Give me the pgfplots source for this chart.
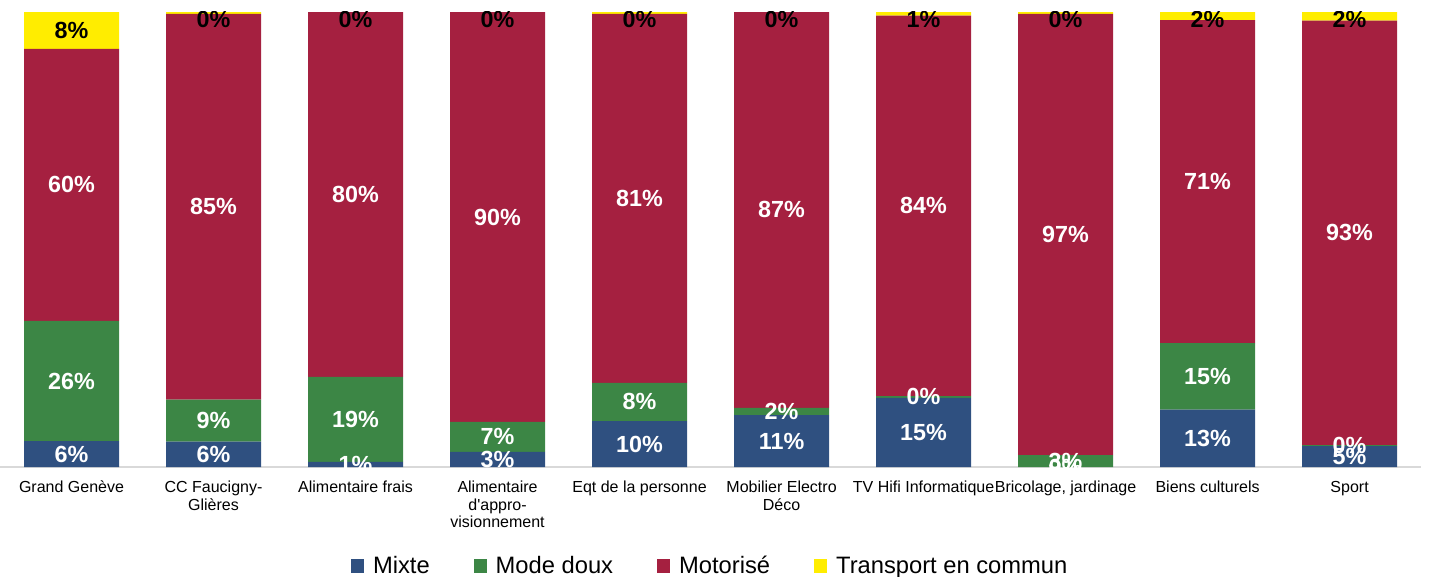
\documentclass[border=0pt]{standalone}
\usepackage{fontspec}
\setmainfont{Liberation Sans}
\usepackage{pgfplots}
\pgfplotsset{compat=1.18}
\usepackage{pgfplotstable}

\definecolor{cMixte}{RGB}{47,80,128}
\definecolor{cDoux}{RGB}{60,134,69}
\definecolor{cMoto}{RGB}{165,32,64}
\definecolor{cTC}{RGB}{255,237,0}

\pgfplotstableread{
x mixte doux moto tc
0 5.7 26.4 59.8 8.1
1 5.6 9.2 84.8 0.4
2 1.1 18.7 80.2 0
3 3.3 6.6 90.1 0
4 10.1 8.4 81.1 0.4
5 11.4 1.6 87.0 0
6 15.2 0.4 83.6 0.8
7 0 2.6 97.0 0.4
8 12.6 14.6 71.0 1.8
9 4.6 0.2 93.3 1.9
}\data

\pgfplotsset{
  /pgf/number format/assume math mode=true,
  base/.style={
    scale only axis, width=1065pt, height=341.25pt,
    xmin=-0.5, xmax=9.5, ymin=0, ymax=100,
    at={(0.375pt,81.75pt)}, anchor=south west,
  },
  lab/.style={
    only marks, mark=*, mark size=0pt, mark options={draw=none, fill=none},
    nodes near coords={\pgfmathprintnumber[fixed,precision=0]{\pgfplotspointmeta}\%},
    point meta=explicit,
    every node near coord/.style={anchor=center, text=#1, inner sep=0pt,
      font=\fontsize{17.5}{17.5}\selectfont\bfseries},
  },
  sq/.style={legend image code/.code={\fill[##1] (0pt,-5pt) rectangle (10pt,5pt); \path (14.5pt,0pt);}},
}

\begin{document}
\begin{tikzpicture}
\useasboundingbox (0,0) rectangle (1071.75pt,432pt);
\begin{axis}[base, ybar stacked, bar width=0.669,
  axis y line=none, axis x line*=bottom,
  axis line style={draw=black!15, line width=1pt},
  ytick=\empty,
  xtick={0,...,9}, major tick length=0pt,
  xticklabels={Grand Genève, {CC Faucigny-\\Glières}, Alimentaire frais, {Alimentaire\\d\textquotesingle appro-\\visionnement}, Eqt de la personne, {Mobilier Electro\\Déco}, TV Hifi Informatique, {Bricolage, jardinage}, Biens culturels, Sport},
  typeset ticklabels with strut,
  xticklabel style={align=center, font=\fontsize{12}{13.1}\selectfont, anchor=north, yshift=-6.7pt},
  legend style={at={(0.5,-0.2176)}, anchor=center, draw=none, legend columns=4,
    font=\fontsize{17.8}{19}\selectfont,
    /tikz/every even column/.append style={column sep=31pt}},
  legend cell align=left,
]
\addplot[fill=cMixte, draw=none, sq] table[x=x,y=mixte]{\data};
\addplot[fill=cDoux, draw=none, sq] table[x=x,y=doux]{\data};
\addplot[fill=cMoto, draw=none, sq] table[x=x,y=moto]{\data};
\addplot[fill=cTC, draw=none, sq] table[x=x,y=tc]{\data};
\legend{Mixte, Mode doux, Motorisé, Transport en commun}
\end{axis}
\begin{axis}[base, hide axis, clip marker paths=true]
\addplot[lab=white] table[x=x, y expr=\thisrow{mixte}/2, meta=mixte]{\data};
\addplot[lab=white] table[x=x, y expr=\thisrow{mixte}+\thisrow{doux}/2, meta=doux]{\data};
\addplot[lab=white] table[x=x, y expr=\thisrow{mixte}+\thisrow{doux}+\thisrow{moto}/2, meta=moto]{\data};
\addplot[lab=black] table[x=x, y expr={min(100-\thisrow{tc}/2,98.46)}, meta=tc]{\data};
\end{axis}
\end{tikzpicture}
\end{document}
